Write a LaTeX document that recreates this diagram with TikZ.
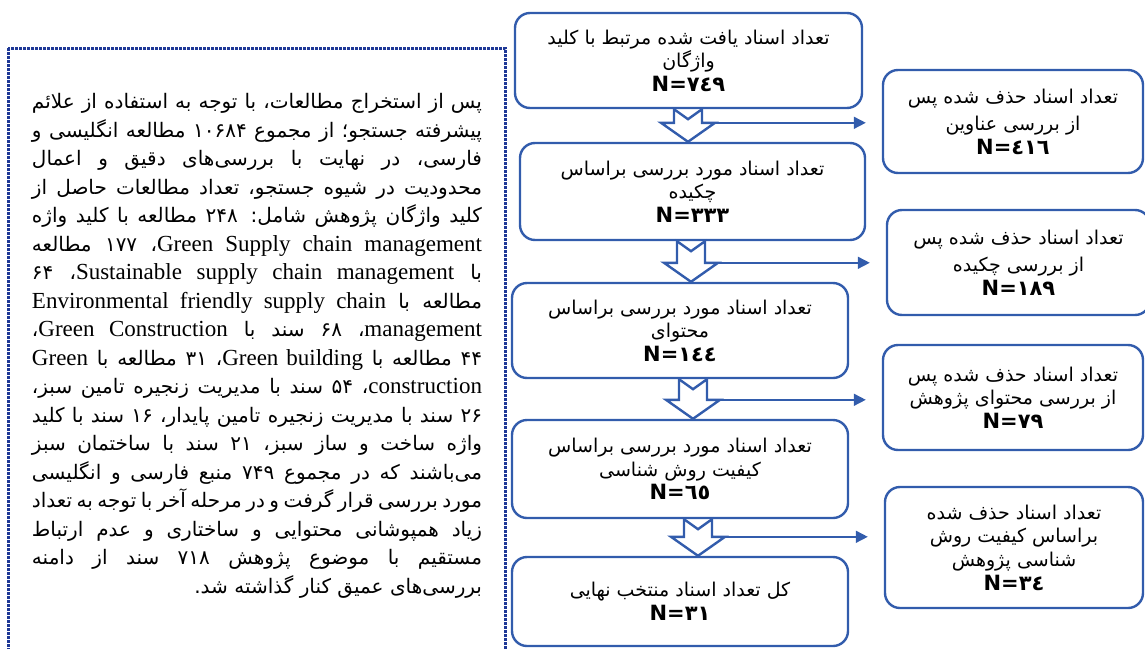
\documentclass[tikz,border=0pt]{standalone}
\usepackage{fontspec}
\setmainfont{DejaVu Sans}
\newfontfamily\farsi[Script=Arabic]{DejaVu Sans}
\newfontfamily\latin{Liberation Serif}
\TeXXeTstate=1
\usetikzlibrary{arrows.meta, calc}
\definecolor{boxBlue}{RGB}{50,92,172}
\definecolor{dotBlue}{RGB}{30,56,150}
\newcommand{\fa}[1]{{\farsi\beginR #1\endR}}
\newcommand{\en}[1]{{\latin\fontsize{11.5}{14}\selectfont\beginL #1\endL}}
\newcommand{\nval}[1]{{\normalfont\bfseries\fontsize{10.5}{12}\selectfont N=#1}}
\tikzstyle{stage} = [rectangle, rounded corners = 7.5pt, draw = boxBlue, line width = 1.2pt, align = center, font = \fontsize{9.5}{11.8}\selectfont, inner sep = 0pt]
\tikzstyle{hollow} = [draw = boxBlue, line width = 1.2pt, line join = miter]
\tikzstyle{side} = [-{Triangle[length = 6pt, width = 6pt]}, draw = boxBlue, line width = 0.8pt, shorten > = 8pt]
\newcommand{\hollowArrow}[4]{%
  \draw [hollow] ($(#1 |- #2.south) + (-14,0)$) -- ($(#1 |- #2.south) + (0,10)$) -- ($(#1 |- #2.south) + (14,0)$) -- ($(#1 |- #3.north) + (14,-19)$) -- ($(#1 |- #3.north) + (27,-19)$) -- (#1 |- #3.north) -- ($(#1 |- #3.north) + (-27,-19)$) -- ($(#1 |- #3.north) + (-14,-19)$) -- cycle;
  \coordinate (#1Head) at ($(#1 |- #3.north) + (27,-19)$);
  \draw [side] (#1Head) -- (#1Head -| #4.west);}

\begin{document}
\begin{tikzpicture}[x = 0.5pt, y = -0.5pt]
\useasboundingbox (0,0) rectangle (1145,648);

% summary of the search
\draw [dotBlue, line width = 1.5pt, dash pattern = on 1.3pt off 0.7pt] (8,48) rectangle (505,700);
\node (summaryText) [anchor = north, text width = 225pt, align = justify, inner sep = 0pt, font = \farsi\fontsize{10}{14.25}\selectfont] at (257,93) {\parfillskip=0pt \beginR
پس از استخراج مطالعات، با توجه به استفاده از علائم\break
پیشرفته جستجو؛ از مجموع ۱۰۶۸۴ مطالعه انگلیسی و\break
فارسی، در نهایت با بررسی‌های دقیق و اعمال\break
محدودیت در شیوه جستجو، تعداد مطالعات حاصل از\break
کلید واژگان پژوهش شامل: ۲۴۸ مطالعه با کلید واژه\break
\en{Green Supply chain management}، ۱۷۷ مطالعه\break
با \en{Sustainable supply chain management}، ۶۴\break
مطالعه با \en{Environmental friendly supply chain}\break
\en{management}، ۶۸ سند با \en{Green Construction}،\break
۴۴ مطالعه با \en{Green building}، ۳۱ مطالعه با \en{Green}\break
\en{construction}، ۵۴ سند با مدیریت زنجیره تامین سبز،\break
۲۶ سند با مدیریت زنجیره تامین پایدار، ۱۶ سند با کلید\break
واژه ساخت و ساز سبز، ۲۱ سند با ساختمان سبز\break
می‌باشند که در مجموع ۷۴۹ منبع فارسی و انگلیسی\break
مورد بررسی قرار گرفت و در مرحله آخر با توجه به تعداد\break
زیاد همپوشانی محتوایی و ساختاری و عدم ارتباط\break
مستقیم با موضوع پژوهش ۷۱۸ سند از دامنه\break
بررسی‌های عمیق کنار گذاشته شد.\hfill\endR};

% screening stages
\node (foundDocs) [stage, minimum width = 173.5pt, minimum height = 47.5pt] at (688.5,60.5) {\fa{تعداد اسناد یافت شده مرتبط با کلید}\\ \fa{واژگان}\\ \nval{٧٤٩}};
\node (abstractDocs) [stage, minimum width = 172.5pt, minimum height = 48.5pt] at (692.5,191.5) {\fa{تعداد اسناد مورد بررسی براساس}\\ \fa{چکیده}\\ \nval{٣٣٣}};
\node (contentDocs) [stage, minimum width = 168pt, minimum height = 47.5pt] at (680,330.5) {\fa{تعداد اسناد مورد بررسی براساس}\\ \fa{محتوای}\\ \nval{١٤٤}};
\node (qualityDocs) [stage, minimum width = 168pt, minimum height = 49pt] at (680,469) {\fa{تعداد اسناد مورد بررسی براساس}\\ \fa{کیفیت روش شناسی}\\ \nval{٦٥}};
\node (finalDocs) [stage, minimum width = 168pt, minimum height = 44.5pt] at (680,601.5) {\fa{کل تعداد اسناد منتخب نهایی}\\ \nval{٣١}};

% removed documents
\node (removedTitles) [stage, minimum width = 130pt, minimum height = 51.5pt] at (1013,121.5) {\fa{تعداد اسناد حذف شده پس}\\[2pt] \fa{از بررسی عناوین}\\ \nval{٤١٦}};
\node (removedAbstracts) [stage, minimum width = 131.5pt, minimum height = 52.5pt] at (1018.5,262.5) {\fa{تعداد اسناد حذف شده پس}\\[2pt] \fa{از بررسی چکیده}\\ \nval{١٨٩}};
\node (removedContent) [stage, minimum width = 130pt, minimum height = 52.5pt] at (1013,397.5) {\fa{تعداد اسناد حذف شده پس}\\ \fa{از بررسی محتوای پژوهش}\\ \nval{٧٩}};
\node (removedQuality) [stage, minimum width = 129pt, minimum height = 60.5pt] at (1014,547.5) {\fa{تعداد اسناد حذف شده}\\ \fa{براساس کیفیت روش}\\ \fa{شناسی پژوهش}\\ \nval{٣٤}};

\coordinate (arrowOne) at (688,0);
\coordinate (arrowTwo) at (691,0);
\coordinate (arrowThree) at (693,0);
\coordinate (arrowFour) at (698,0);
\hollowArrow{arrowOne}{foundDocs}{abstractDocs}{removedTitles}
\hollowArrow{arrowTwo}{abstractDocs}{contentDocs}{removedAbstracts}
\hollowArrow{arrowThree}{contentDocs}{qualityDocs}{removedContent}
\hollowArrow{arrowFour}{qualityDocs}{finalDocs}{removedQuality}
\end{tikzpicture}
\end{document}
